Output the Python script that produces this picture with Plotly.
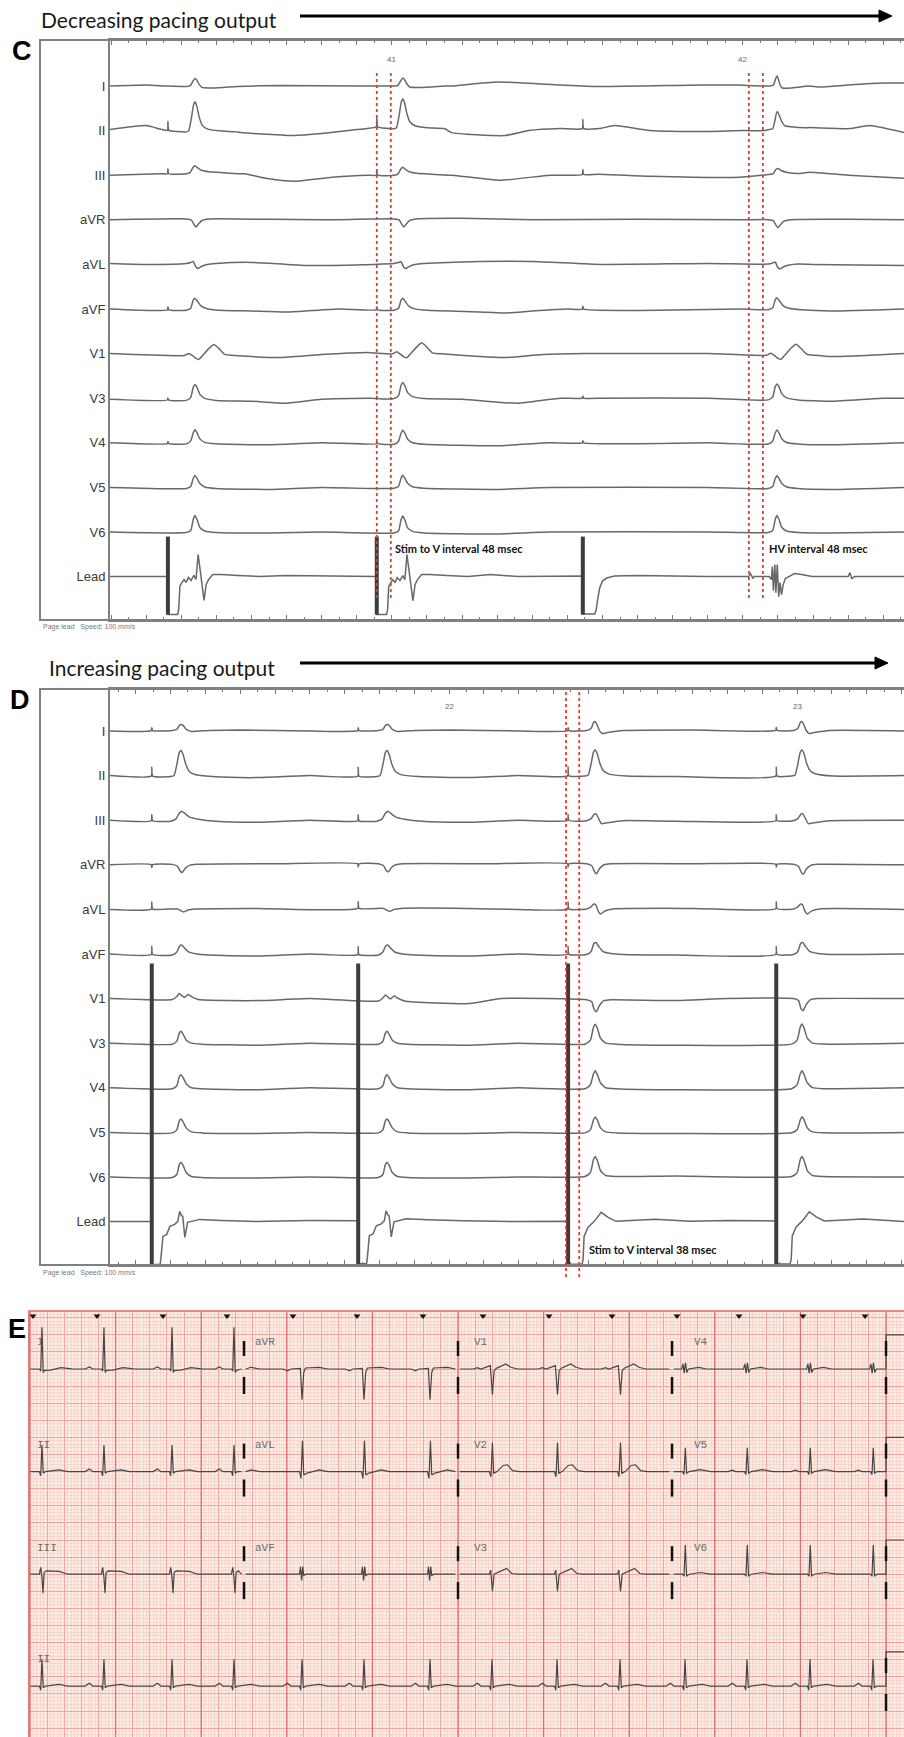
import numpy as np
import plotly.graph_objects as go

W, H = 904, 1737

# ----------------------------------------------------------------- channels
LEADS = ["I", "II", "III", "aVR", "aVL", "aVF", "V1", "V3", "V4", "V5", "V6", "Lead"]
LEAD_GAP = 44.6

# ----------------------------------------------------------------- panel C
C_T_RANGE = [40.197, 42.459]
C_SECONDS = [41, 42]
C_STIM = [40.362, 40.957, 41.544]
C_STIM_CAPTURED = [True, True, False]
C_QRS_PACED = [40.439, 41.031]
C_QRS_INTRINSIC = [42.097]
C_MARKERS = [40.957, 40.997, 42.017, 42.057]
C_STIM_BAR = [40, -38]
C_STIM_TICK = {"II": 9, "III": 5, "aVF": 3, "V3": 2, "V4": 2}

C_TPL_PACED = {
    "I": [(-25, 0), (-14, 0.5), (-6, 5), (0, 8), (5, 6.5), (12, 2), (20, -1), (40, -1.5), (80, -1), (120, 0)],
    "II": [(-25, 0), (-18, 1), (-11, 12), (-4, 27), (0, 30), (5, 26), (12, 15), (20, 7), (35, 3), (70, 1), (120, 0)],
    "III": [(-25, 0), (-14, 1), (-6, 6), (0, 8), (7, 6), (18, 3.5), (40, 2), (80, 1), (130, 0)],
    "aVR": [(-25, 0), (-10, -1), (-2, -6), (3, -8), (10, -5), (20, -1.5), (40, 0)],
    "aVL": [(-25, 0), (-12, 1), (-5, 2), (2, -3), (8, -5), (18, -3), (35, -1), (60, 0)],
    "aVF": [(-25, 0), (-12, 2), (-5, 10), (0, 12), (7, 9), (18, 4), (35, 1.5), (70, 0)],
    "V1": [(-30, 0), (-17, 2), (-8, 0), (3, -3), (11, -4), (22, 0), (40, 7), (54, 11), (68, 7), (85, 1), (110, 0)],
    "V3": [(-25, 0), (-12, 3), (-5, 13), (0, 16), (6, 13), (14, 6), (28, 2), (60, 0)],
    "V4": [(-25, 0), (-12, 3), (-5, 11), (0, 14), (6, 11), (14, 5), (28, 1.5), (60, 0)],
    "V5": [(-25, 0), (-12, 2), (-5, 10), (0, 13), (6, 10), (14, 5), (28, 1.5), (60, 0)],
    "V6": [(-25, 0), (-12, 2), (-5, 13), (0, 17), (6, 13), (14, 5), (28, 1.5), (60, 0)],
}
C_TPL_INTRINSIC = {
    **C_TPL_PACED,
    "I": [(-20, 0), (-10, 1), (-4, 7), (0, 10), (4, 7), (9, 1), (15, -2), (40, -2), (90, 0)],
    "II": [(-25, 0), (-12, 1), (-6, 9), (-1, 17), (2, 18), (7, 14), (14, 8), (22, 4), (40, 3), (80, 2)],
    "III": [(-25, 0), (-10, 1), (-3, 5), (3, 6), (12, 4), (30, 2), (60, 1)],
}
C_LEAD_PACED = [(0, 0), (0.3, -38), (28, -38), (31, -32), (34, -10), (40, -6), (46, -3), (52, -6), (58, -1),
                (66, -4), (74, 1), (80, -3), (86, 22), (89, 14), (93, 4), (98, -12), (103, -24), (109, -8),
                (116, -3), (128, 2), (150, 2), (200, 1), (260, 0)]
C_LEAD_FAIL = [(0, 0), (0.3, -38), (34, -38), (38, -34), (42, -24), (48, -12), (56, -5), (68, -2), (90, 0)]
C_LEAD_INTRINSIC = [(-110, 0), (-80, 0), (-76, 3), (-72, 1), (-69, -2), (-65, 0), (-22, 0), (-16, -3),
                    (-13, 10), (-10, -14), (-6, 12), (-3, -16), (1, 12), (5, -20), (9, -6), (13, -18),
                    (18, -8), (24, -2), (34, 0), (50, 3), (70, 2), (100, 0)]
C_BASE = {
    "I": [(40.197, 0), (40.30, 1), (40.36, 0), (40.55, -1), (40.68, 0.5), (40.90, 0), (41.17, 0), (41.30, 4),
          (41.48, 1), (41.59, -0.5), (41.88, 1), (41.98, 1), (42.22, -1), (42.30, 1), (42.40, 3), (42.459, 3)],
    "II": [(40.197, 1), (40.30, 5), (40.345, 1), (40.39, -1), (40.57, -2), (40.66, -4), (40.72, -5), (40.80, -3),
           (40.90, 1), (40.95, 4), (41.17, -2), (41.32, -5), (41.39, 0), (41.48, 2), (41.59, 2), (41.635, 5),
           (41.735, 0), (41.877, -1), (42.00, 0), (42.06, 0), (42.19, 3), (42.305, 2), (42.36, 5), (42.459, -2)],
    "III": [(40.197, 0), (40.339, 1.5), (40.58, 1.5), (40.64, -3), (40.72, -6), (40.83, -2), (40.93, 0),
            (41.17, 0), (41.31, -5), (41.45, 0), (41.59, 1), (41.735, -1), (41.99, -2), (42.19, 3), (42.30, 0),
            (42.459, -3)],
    "aVR": [(40.197, 0), (40.50, 1), (40.80, 0), (41.20, 1.5), (41.40, 0), (41.70, 0.5), (42.00, 0), (42.30, 0.5),
            (42.459, 0)],
    "aVL": [(40.197, 1), (40.30, 0), (40.60, 2), (40.75, -1), (40.95, 0), (41.25, 3), (41.40, 3), (41.60, 0),
            (41.90, 1), (42.20, 0), (42.459, -1)],
    "aVF": [(40.197, 0), (40.60, -2), (40.70, -3), (40.85, 0), (41.25, -3), (41.32, -4), (41.40, -2), (41.50, 0),
            (41.80, -1), (42.00, 0), (42.25, -2), (42.459, 0)],
    "V1": [(40.197, 0), (40.60, -3), (40.68, -4), (40.80, -1), (40.93, 1), (41.25, -3), (41.32, -4), (41.43, -1),
           (41.55, 0), (41.90, 0), (42.25, -3), (42.35, -2), (42.459, 0)],
    "V3": [(40.197, -1), (40.60, -3), (40.70, -5), (40.80, -1), (40.93, 0), (41.20, -1), (41.30, -4),
           (41.36, -5), (41.48, 0), (41.60, 0), (41.90, 0), (42.25, -3), (42.40, 0), (42.459, 0)],
    "V4": [(40.197, 0), (40.65, -2), (40.80, 0), (41.30, -3), (41.45, 0), (41.90, 0), (42.25, -2), (42.459, 0)],
    "V5": [(40.197, 0), (40.65, -2), (40.80, 0), (41.30, -2), (41.45, 0), (41.90, 0), (42.25, -2), (42.459, 0)],
    "V6": [(40.197, 0), (40.65, -1), (40.80, 0), (41.30, -2), (41.45, 0), (41.90, 0), (42.25, -1), (42.459, 0)],
    "Lead": [(40.197, 0), (40.30, 0), (40.70, 1), (40.90, 0), (41.20, 0), (41.28, 2), (41.36, 0), (41.70, 1),
             (41.90, 0), (42.28, 0), (42.30, 0), (42.305, 4), (42.31, -2), (42.318, 0), (42.459, 0)],
}

# ----------------------------------------------------------------- panel D
D_T_RANGE = [21.026, 23.307]
D_SECONDS = [22, 23]
D_STIM = [21.146, 21.739, 22.342, 22.940]
D_QRS = [21.230, 21.822, 22.420, 23.014]
D_TYPE = ["A", "A", "B", "B"]
D_MARKERS = [22.336, 22.374]
D_STIM_BAR = [258, -43]
D_STIM_TICK = {"I": 3, "II": 9, "III": 6, "aVR": -3, "aVL": 7, "aVF": 8}

D_TPL_A = {
    "I": [(-25, 0), (-12, 1), (-5, 5), (0, 6), (6, 5), (15, 1), (30, -1), (80, 0)],
    "II": [(-30, 0), (-20, 1), (-12, 12), (-5, 24), (0, 26), (6, 22), (14, 12), (24, 5), (40, 2), (90, 0)],
    "III": [(-30, 0), (-15, 2), (-5, 8), (2, 10), (10, 8), (25, 4), (50, 2), (100, 0)],
    "aVR": [(-25, 0), (-10, -2), (-2, -7), (4, -8), (12, -4), (25, -1), (45, 0)],
    "aVL": [(-25, 0), (-10, 0), (0, -2), (8, -3), (20, -1), (40, 0)],
    "aVF": [(-25, 0), (-12, 3), (-4, 9), (2, 10), (10, 7), (22, 3), (45, 1), (80, 0)],
    "V1": [(-25, 0), (-12, 3), (-5, 6), (2, 4), (10, 2), (20, 5), (30, 3), (50, 0)],
    "V3": [(-25, 0), (-12, 3), (-5, 11), (0, 13), (6, 10), (15, 4), (30, 1), (60, 0)],
    "V4": [(-25, 0), (-12, 3), (-5, 12), (0, 14), (6, 11), (15, 5), (30, 1), (60, 0)],
    "V5": [(-25, 0), (-12, 3), (-5, 12), (0, 14), (6, 11), (15, 5), (30, 1), (60, 0)],
    "V6": [(-25, 0), (-12, 3), (-5, 13), (0, 15), (6, 12), (15, 5), (30, 1), (60, 0)],
}
D_TPL_B = {
    "I": [(-25, 0), (-12, 2), (-5, 8), (0, 9), (5, 6), (12, 0), (20, -3), (35, -2), (80, 0)],
    "II": [(-30, 0), (-20, 1), (-12, 12), (-5, 24), (0, 26), (6, 22), (14, 12), (24, 5), (40, 2), (90, 0)],
    "III": [(-25, 0), (-12, 2), (-4, 6), (2, 7), (10, 2), (18, -3), (35, -2), (80, 0)],
    "aVR": [(-25, 0), (-10, -2), (-2, -8), (4, -10), (12, -5), (25, -1), (45, 0)],
    "aVL": [(-25, 0), (-12, 2), (-4, 5), (2, 4), (8, -2), (15, -5), (28, -2), (50, 0)],
    "aVF": [(-25, 0), (-12, 3), (-4, 11), (2, 12), (10, 8), (22, 3), (45, 1), (80, 0)],
    "V1": [(-25, 0), (-10, -2), (-3, -10), (3, -12), (12, -6), (25, -1), (45, 0)],
    "V3": [(-30, 0), (-14, 4), (-5, 17), (0, 20), (6, 16), (15, 6), (30, 1), (60, 0)],
    "V4": [(-30, 0), (-14, 4), (-5, 15), (0, 18), (6, 14), (15, 6), (30, 1), (60, 0)],
    "V5": [(-30, 0), (-14, 3), (-5, 13), (0, 16), (6, 13), (15, 5), (30, 1), (60, 0)],
    "V6": [(-30, 0), (-14, 4), (-5, 17), (0, 20), (6, 16), (15, 6), (30, 1), (60, 0)],
}
D_LEAD_A = [(0, 0), (0.3, -43), (24, -43), (26, -38), (32, -15), (43, -13), (52, -5), (66, -3), (75, 0),
            (80, 10), (85, 6), (89, 5), (95, -16), (103, -1), (138, 2), (200, 1), (300, 0)]
D_LEAD_B = [(0, 0), (0.3, -43), (40, -43), (43, -38), (46, -15), (57, -6), (75, 0), (95, 9), (115, 4),
            (138, 0), (250, 2), (350, 0)]
D_BASE = {
    "I": [(21.026, 0), (21.40, 1), (21.60, 0), (22.00, 1), (22.20, 0), (22.70, 1), (23.307, 0)],
    "II": [(21.026, 0), (21.45, -2), (21.60, 0), (22.05, -2), (22.20, 0), (22.65, -1), (23.307, 0)],
    "III": [(21.026, 0), (21.45, -2), (21.60, 0), (22.05, -2), (22.20, 0), (22.65, -1), (23.307, 0)],
    "aVR": [(21.026, 0), (21.50, 1), (22.10, 1), (22.70, 1), (23.307, 0)],
    "aVL": [(21.026, 0), (21.45, 1), (22.05, 1), (22.20, 0), (22.70, 1), (23.307, 0)],
    "aVF": [(21.026, 0), (21.45, -2), (21.60, 0), (22.05, -2), (22.20, 0), (22.65, -1), (23.307, 0)],
    "V1": [(21.026, 0), (21.45, -2), (21.60, 0), (22.06, -5), (22.15, 0), (22.65, -2), (22.80, 0), (23.307, 0)],
    "V3": [(21.026, 0), (21.45, -2), (21.60, 0), (22.05, -2), (22.20, 0), (22.65, -2), (23.307, 0)],
    "V4": [(21.026, 0), (21.45, -2), (21.60, 0), (22.05, -2), (22.20, 0), (22.65, -2), (23.307, 0)],
    "V5": [(21.026, 0), (21.45, -1), (21.60, 0), (22.05, -1), (22.20, 0), (22.65, -1), (23.307, 0)],
    "V6": [(21.026, 0), (21.45, -1), (21.60, 0), (22.05, -1), (22.20, 0), (22.65, 1), (23.307, 0)],
    "Lead": [(21.026, 0), (21.60, 1), (22.20, 0), (22.80, 1), (23.307, 0)],
}

# ----------------------------------------------------------------- panel E (12-lead ECG)
E_T_RANGE = [0, 10.21]
E_MV_RANGE = [-10.76, 1.667]
E_ROWS = [["I", "aVR", "V1", "V4"], ["II", "aVL", "V2", "V5"], ["III", "aVF", "V3", "V6"], ["II"]]
E_ROW_BASE = [0.0, -3.0, -6.0, -9.27]
E_COL_EDGES = [0.0, 2.5, 5.0, 7.5, 10.0]
E_LABEL_T = [0.06, 2.61, 5.16, 7.73]
E_SECOND_LINES = [0, 1, 2, 3, 4, 5, 6, 7, 8, 9, 10]
E_R_TIMES = [0.140, 0.864, 1.659, 2.383, 3.178, 3.902, 4.673, 5.397, 6.157, 6.893, 7.652, 8.376, 9.112, 9.848]
E_MARK_TIMES = [0.035, 0.783, 1.554, 2.301, 3.072, 3.820, 4.591, 5.292, 6.063, 6.799, 7.558, 8.283, 9.030, 9.755]
E_CAL = [(10.0, 0.0), (10.0, 1.0), (10.21, 1.0)]
E_TPL = {
    "I": [(-0.22, 0), (-0.17, 0.06), (-0.13, 0), (-0.03, 0), (-0.015, -0.06), (0, 1.22), (0.014, -0.1),
          (0.03, -0.04), (0.1, -0.03), (0.22, 0.04), (0.3, 0.02), (0.36, 0)],
    "aVR": [(-0.22, 0), (-0.17, -0.05), (-0.13, 0), (-0.02, 0.02), (0, -0.9), (0.02, -0.1), (0.04, 0.03),
            (0.2, 0.05), (0.3, 0)],
    "V1": [(-0.22, 0), (-0.17, 0.04), (-0.13, 0), (-0.02, 0.1), (0.005, -0.75), (0.025, -0.05), (0.05, 0.02),
           (0.12, 0.1), (0.16, 0.15), (0.22, 0.05), (0.3, 0)],
    "V4": [(-0.22, 0), (-0.04, 0), (-0.025, 0.15), (-0.01, -0.12), (0.005, 0.18), (0.02, -0.1), (0.04, 0),
           (0.16, 0.05), (0.25, 0)],
    "II": [(-0.22, 0), (-0.17, 0.08), (-0.13, 0), (-0.03, 0), (-0.015, -0.12), (0, 0.78), (0.015, -0.05),
           (0.04, 0), (0.2, 0.05), (0.3, 0)],
    "aVL": [(-0.22, 0), (-0.03, 0), (-0.012, -0.2), (0.005, 0.9), (0.02, -0.1), (0.05, -0.05), (0.2, 0.05),
            (0.3, 0)],
    "V2": [(-0.22, 0), (-0.03, 0), (-0.012, -0.15), (0.005, 0.85), (0.02, -0.05), (0.06, 0), (0.13, 0.18),
           (0.18, 0.2), (0.24, 0.03), (0.32, 0)],
    "V5": [(-0.22, 0), (-0.17, 0.04), (-0.13, 0), (-0.03, 0), (-0.012, -0.08), (0.003, 0.7), (0.018, -0.05),
           (0.05, 0), (0.18, 0.06), (0.3, 0)],
    "III": [(-0.22, 0), (-0.03, 0), (-0.015, 0.2), (0, -0.1), (0.012, -0.55), (0.025, 0.05), (0.05, 0.1),
            (0.2, 0.08), (0.3, 0)],
    "aVF": [(-0.22, 0), (-0.03, 0), (-0.018, 0.22), (-0.005, -0.18), (0.008, 0.22), (0.02, -0.05), (0.04, 0),
            (0.3, 0)],
    "V3": [(-0.22, 0), (-0.03, 0), (-0.015, 0.12), (0.005, -0.5), (0.025, 0), (0.12, 0.12), (0.17, 0.17),
           (0.23, 0.02), (0.3, 0)],
    "V6": [(-0.22, 0), (-0.03, 0), (-0.012, -0.06), (0.003, 0.85), (0.018, -0.05), (0.05, 0), (0.18, 0.05),
           (0.3, 0)],
}

# ----------------------------------------------------------------- helpers
def py(p):
    return 1 - p / H


def px(x):
    return x / W


def compose(base, beats, ticks=()):
    bt = np.array([p[0] for p in base])
    ba = np.array([p[1] for p in base])
    wins = [(t + tpl[0][0] / 1000, t + tpl[-1][0] / 1000) for t, tpl in beats]
    wins += [(t - 0.004, t + 0.004) for t, _ in ticks]
    pts = [p for p in base if not any(lo - 0.004 <= p[0] <= hi + 0.004 for lo, hi in wins)]
    for t, tpl in beats:
        off = float(np.interp(t, bt, ba))
        pts += [(t + dt / 1000, off + a) for dt, a in tpl]
    for t, amp in ticks:
        off = float(np.interp(t, bt, ba))
        pts += [(t - 0.0015, off), (t, off + amp), (t + 0.0025, off)]
    pts.sort()
    return [p[0] for p in pts], [p[1] for p in pts]


TRACE_GRAY = "#686868"
fig = go.Figure()

# ---------------- panel C traces
for k, lead in enumerate(LEADS):
    off = -k * LEAD_GAP
    if lead == "Lead":
        beats = [(s, C_LEAD_PACED if cap else C_LEAD_FAIL) for s, cap in zip(C_STIM, C_STIM_CAPTURED)]
        beats += [(q, C_LEAD_INTRINSIC) for q in C_QRS_INTRINSIC]
        xs, ys = compose(C_BASE[lead], beats)
        shape = "linear"
    else:
        beats = [(q, C_TPL_PACED[lead]) for q in C_QRS_PACED]
        beats += [(q, C_TPL_INTRINSIC[lead]) for q in C_QRS_INTRINSIC]
        ticks = [(s, C_STIM_TICK[lead]) for s in C_STIM] if lead in C_STIM_TICK else []
        xs, ys = compose(C_BASE[lead], beats, ticks)
        shape = "spline"
    fig.add_trace(go.Scatter(x=xs, y=[off + v for v in ys], mode="lines", xaxis="x", yaxis="y",
                             line=dict(color=TRACE_GRAY, width=1.5, shape=shape, smoothing=0.5),
                             hoverinfo="skip", showlegend=False))
lead_off_c = -(len(LEADS) - 1) * LEAD_GAP
bx, by = [], []
for s in C_STIM:
    bx += [s, s, None]
    by += [lead_off_c + C_STIM_BAR[0], lead_off_c + C_STIM_BAR[1], None]
fig.add_trace(go.Scatter(x=bx, y=by, mode="lines", xaxis="x", yaxis="y",
                         line=dict(color="#3c3c3c", width=4), hoverinfo="skip", showlegend=False))

# ---------------- panel D traces
for k, lead in enumerate(LEADS):
    off = -k * LEAD_GAP
    if lead == "Lead":
        beats = [(s, D_LEAD_A if ty == "A" else D_LEAD_B) for s, ty in zip(D_STIM, D_TYPE)]
        xs, ys = compose(D_BASE[lead], beats)
        shape = "linear"
    else:
        beats = [(q, (D_TPL_A if ty == "A" else D_TPL_B)[lead]) for q, ty in zip(D_QRS, D_TYPE)]
        ticks = [(s, D_STIM_TICK[lead]) for s in D_STIM] if lead in D_STIM_TICK else []
        xs, ys = compose(D_BASE[lead], beats, ticks)
        shape = "spline"
    fig.add_trace(go.Scatter(x=xs, y=[off + v for v in ys], mode="lines", xaxis="x3", yaxis="y3",
                             line=dict(color=TRACE_GRAY, width=1.5, shape=shape, smoothing=0.5),
                             hoverinfo="skip", showlegend=False))
lead_off_d = -(len(LEADS) - 1) * LEAD_GAP
bx, by = [], []
for s in D_STIM:
    bx += [s, s, None]
    by += [lead_off_d + D_STIM_BAR[0], lead_off_d + D_STIM_BAR[1], None]
fig.add_trace(go.Scatter(x=bx, y=by, mode="lines", xaxis="x3", yaxis="y3",
                         line=dict(color="#3c3c3c", width=4), hoverinfo="skip", showlegend=False))

# ---------------- panel E traces
# heavy one-second lines of the ECG paper
gx, gy = [], []
for s in E_SECOND_LINES:
    gx += [s, s, None]
    gy += [E_MV_RANGE[0], E_MV_RANGE[1], None]
fig.add_trace(go.Scatter(x=gx, y=gy, mode="lines", xaxis="x5", yaxis="y5",
                         line=dict(color="#dc6f72", width=1.3), hoverinfo="skip", showlegend=False))
for r, row in enumerate(E_ROWS):
    base = E_ROW_BASE[r]
    xs, ys = [], []
    segs = ([(E_COL_EDGES[c] + 0.02, E_COL_EDGES[c + 1] - (0.03 if c < 3 else 0), row[c]) for c in range(4)]
            if len(row) == 4 else [(0.005, E_COL_EDGES[-1], row[0])])
    segs = [(0.005 if a < 0.03 else a, b, n) for a, b, n in segs]
    for a, b, name in segs:
        pts = [(a, 0.0)]
        for t in E_R_TIMES:
            pts += [(t + dt, v) for dt, v in E_TPL[name] if a < t + dt < b]
        pts.append((b, 0.0))
        if b >= E_COL_EDGES[-1]:
            pts += E_CAL
        pts.sort(key=lambda p: p[0])
        xs += [p[0] for p in pts] + [None]
        ys += [base + p[1] for p in pts] + [None]
    fig.add_trace(go.Scatter(x=xs, y=ys, mode="lines", xaxis="x5", yaxis="y5",
                             line=dict(color="#454545", width=1.2), hoverinfo="skip", showlegend=False))
# column separator dashes
sx, sy = [], []
for r, row in enumerate(E_ROWS):
    base = E_ROW_BASE[r]
    edges = E_COL_EDGES[1:] if len(row) == 4 else E_COL_EDGES[-1:]
    for e in edges:
        sx += [e, e, None, e, e, None]
        sy += [base + 0.82, base + 0.38, None, base - 0.23, base - 0.73, None]
fig.add_trace(go.Scatter(x=sx, y=sy, mode="lines", xaxis="x5", yaxis="y5",
                         line=dict(color="#111111", width=2.5), hoverinfo="skip", showlegend=False))
fig.add_trace(go.Scatter(x=E_MARK_TIMES, y=[1.55] * len(E_MARK_TIMES), mode="markers", xaxis="x5", yaxis="y5",
                         marker=dict(symbol="triangle-down", size=6, color="#111111"), cliponaxis=False,
                         hoverinfo="skip", showlegend=False))

# ----------------------------------------------------------------- axes
RULER = dict(side="top", ticks="inside", ticklen=5, tickwidth=1.2, tickcolor="#777", dtick=0.1, tick0=0,
             showline=True, linecolor="#808080", linewidth=2, mirror="ticks",
             minor=dict(ticks="inside", ticklen=3, dtick=0.05, tick0=0, tickcolor="#777", tickwidth=1),
             showticklabels=False, showgrid=False, zeroline=False, fixedrange=True)
BIG = dict(side="top", ticks="inside", ticklen=10, tickwidth=1.5, tickcolor="#666", mirror="ticks",
           showline=False, showticklabels=False, showgrid=False, zeroline=False)
lead_vals = [-k * LEAD_GAP for k in range(len(LEADS))]
YLEAD = dict(tickmode="array", tickvals=lead_vals, ticktext=LEADS, ticks="", showline=True,
             linecolor="#808080", linewidth=2, showgrid=False, zeroline=False,
             tickfont=dict(family="Liberation Sans, Arial", size=13, color="#3a3a3a"))

dom_x = [px(110), 1.0]
fig.update_layout(
    width=W, height=H, margin=dict(l=0, r=0, t=0, b=0),
    paper_bgcolor="white", plot_bgcolor="rgba(0,0,0,0)", showlegend=False,
    xaxis=dict(domain=dom_x, range=C_T_RANGE, anchor="y", **RULER),
    xaxis2=dict(domain=dom_x, range=C_T_RANGE, anchor="y", overlaying="x", tickvals=C_SECONDS, **BIG),
    yaxis=dict(domain=[py(620), py(40)], range=[-534, 46], anchor="x", **YLEAD),
    xaxis3=dict(domain=dom_x, range=D_T_RANGE, anchor="y3", **RULER),
    xaxis4=dict(domain=dom_x, range=D_T_RANGE, anchor="y3", overlaying="x3", tickvals=D_SECONDS, **BIG),
    yaxis3=dict(domain=[py(1265), py(689)], range=[-534, 42], anchor="x3", **YLEAD),
    xaxis5=dict(domain=[px(30), 1.0], range=E_T_RANGE, anchor="y5", side="top", showline=True,
                linecolor="#e28a8a", linewidth=2, showgrid=True, gridcolor="#efa7a3", gridwidth=1,
                dtick=0.2, tick0=0, minor=dict(showgrid=True, dtick=0.04, tick0=0, gridcolor="#f9d5cc",
                                               gridwidth=0.6),
                ticks="", showticklabels=False, zeroline=False),
    yaxis5=dict(domain=[0, py(1312)], range=E_MV_RANGE, anchor="x5", showline=True, linecolor="#e07a7a",
                linewidth=1.5, showgrid=True, gridcolor="#efa7a3", gridwidth=1, dtick=0.5, tick0=0,
                minor=dict(showgrid=True, dtick=0.1, tick0=0, gridcolor="#f9d5cc", gridwidth=0.6),
                ticks="", showticklabels=False, zeroline=False),
)

# ----------------------------------------------------------------- shapes
shapes = []
for top, bot in [(40, 620), (689, 1265)]:
    shapes.append(dict(type="rect", xref="paper", yref="paper", x0=px(40), x1=1.05, y0=py(bot), y1=py(top),
                       line=dict(color="#808080", width=2), layer="above"))
for t in C_MARKERS:
    shapes.append(dict(type="line", xref="x", yref="paper", x0=t, x1=t, y0=py(598), y1=py(73),
                       line=dict(color="#ea3b2a", width=1.8, dash="dot")))
for t in D_MARKERS:
    shapes.append(dict(type="line", xref="x3", yref="paper", x0=t, x1=t, y0=py(1277), y1=py(689),
                       line=dict(color="#ea3b2a", width=1.8, dash="dot")))
# arrows
for y_line, x_start, x_tip in [(16, 300, 892), (663, 300, 888)]:
    shapes.append(dict(type="line", xref="paper", yref="paper", x0=px(x_start), x1=px(x_tip - 8),
                       y0=py(y_line), y1=py(y_line), line=dict(color="#000", width=3)))
    shapes.append(dict(type="path", xref="paper", yref="paper",
                       path=f"M {px(x_tip)},{py(y_line)} L {px(x_tip - 13)},{py(y_line - 6)} "
                            f"L {px(x_tip - 13)},{py(y_line + 6)} Z",
                       fillcolor="#000", line=dict(color="#000", width=1)))
# ECG paper background
shapes.append(dict(type="rect", xref="x5", yref="y5", x0=E_T_RANGE[0], x1=E_T_RANGE[1],
                   y0=E_MV_RANGE[0], y1=E_MV_RANGE[1], fillcolor="#fdece4", line=dict(width=0), layer="below"))
fig.update_layout(shapes=shapes)

# ----------------------------------------------------------------- annotations
ann = []
BOLD = dict(family="Liberation Sans, Arial", size=27, color="#000")
for txt, x, y in [("C", 10, 51), ("D", 8, 700), ("E", 6, 1329)]:
    ann.append(dict(text=f"<b>{txt}</b>", x=px(x), y=py(y), xref="paper", yref="paper", xanchor="left",
                    yanchor="middle", showarrow=False, font=BOLD))
TITLE = dict(family="Lato, Open Sans, sans-serif", size=21, color="#1a1a1a")
ann.append(dict(text="Decreasing pacing output", x=px(39), y=py(20), xref="paper", yref="paper",
                xanchor="left", yanchor="middle", showarrow=False, font=TITLE))
ann.append(dict(text="Increasing pacing output", x=px(47), y=py(667), xref="paper", yref="paper",
                xanchor="left", yanchor="middle", showarrow=False, font=TITLE))
SMALL = dict(family="Liberation Sans, Arial", size=7, color="#777")
for y in (627, 1273):
    ann.append(dict(text="Page lead   Speed: 100 mm/s", x=px(41), y=py(y), xref="paper", yref="paper",
                    xanchor="left", yanchor="middle", showarrow=False, font=SMALL))
SEC = dict(family="Liberation Sans, Arial", size=8, color="#666")
for s in C_SECONDS:
    ann.append(dict(text=str(s), x=s, xref="x", y=py(59), yref="paper", showarrow=False, font=SEC,
                    yanchor="middle"))
for s in D_SECONDS:
    ann.append(dict(text=str(s), x=s, xref="x3", y=py(706), yref="paper", showarrow=False, font=SEC,
                    yanchor="middle"))
NOTE = dict(family="Lato, Open Sans, sans-serif", size=11, color="#111")
ann.append(dict(text="<b>Stim to V interval 48 msec</b>", x=px(393), y=py(548), xref="paper", yref="paper",
                xanchor="left", yanchor="middle", showarrow=False, font=NOTE))
ann.append(dict(text="<b>HV interval 48 msec</b>", x=px(767), y=py(548), xref="paper", yref="paper",
                xanchor="left", yanchor="middle", showarrow=False, font=NOTE))
ann.append(dict(text="<b>Stim to V interval 38 msec</b>", x=px(587), y=py(1249), xref="paper", yref="paper",
                xanchor="left", yanchor="middle", showarrow=False, font=NOTE))
MONO = dict(family="Liberation Mono, Courier New, monospace", size=11, color="#6a6a6a")
for r, row in enumerate(E_ROWS):
    for c, name in enumerate(row):
        ann.append(dict(text=name, x=E_LABEL_T[c], y=E_ROW_BASE[r] + 0.78, xref="x5", yref="y5",
                        xanchor="left", yanchor="middle", showarrow=False, font=MONO))
fig.update_layout(annotations=ann)

fig.write_html("out.html", config={"displayModeBar": False},
               post_script="document.body.style.margin='0px';")
